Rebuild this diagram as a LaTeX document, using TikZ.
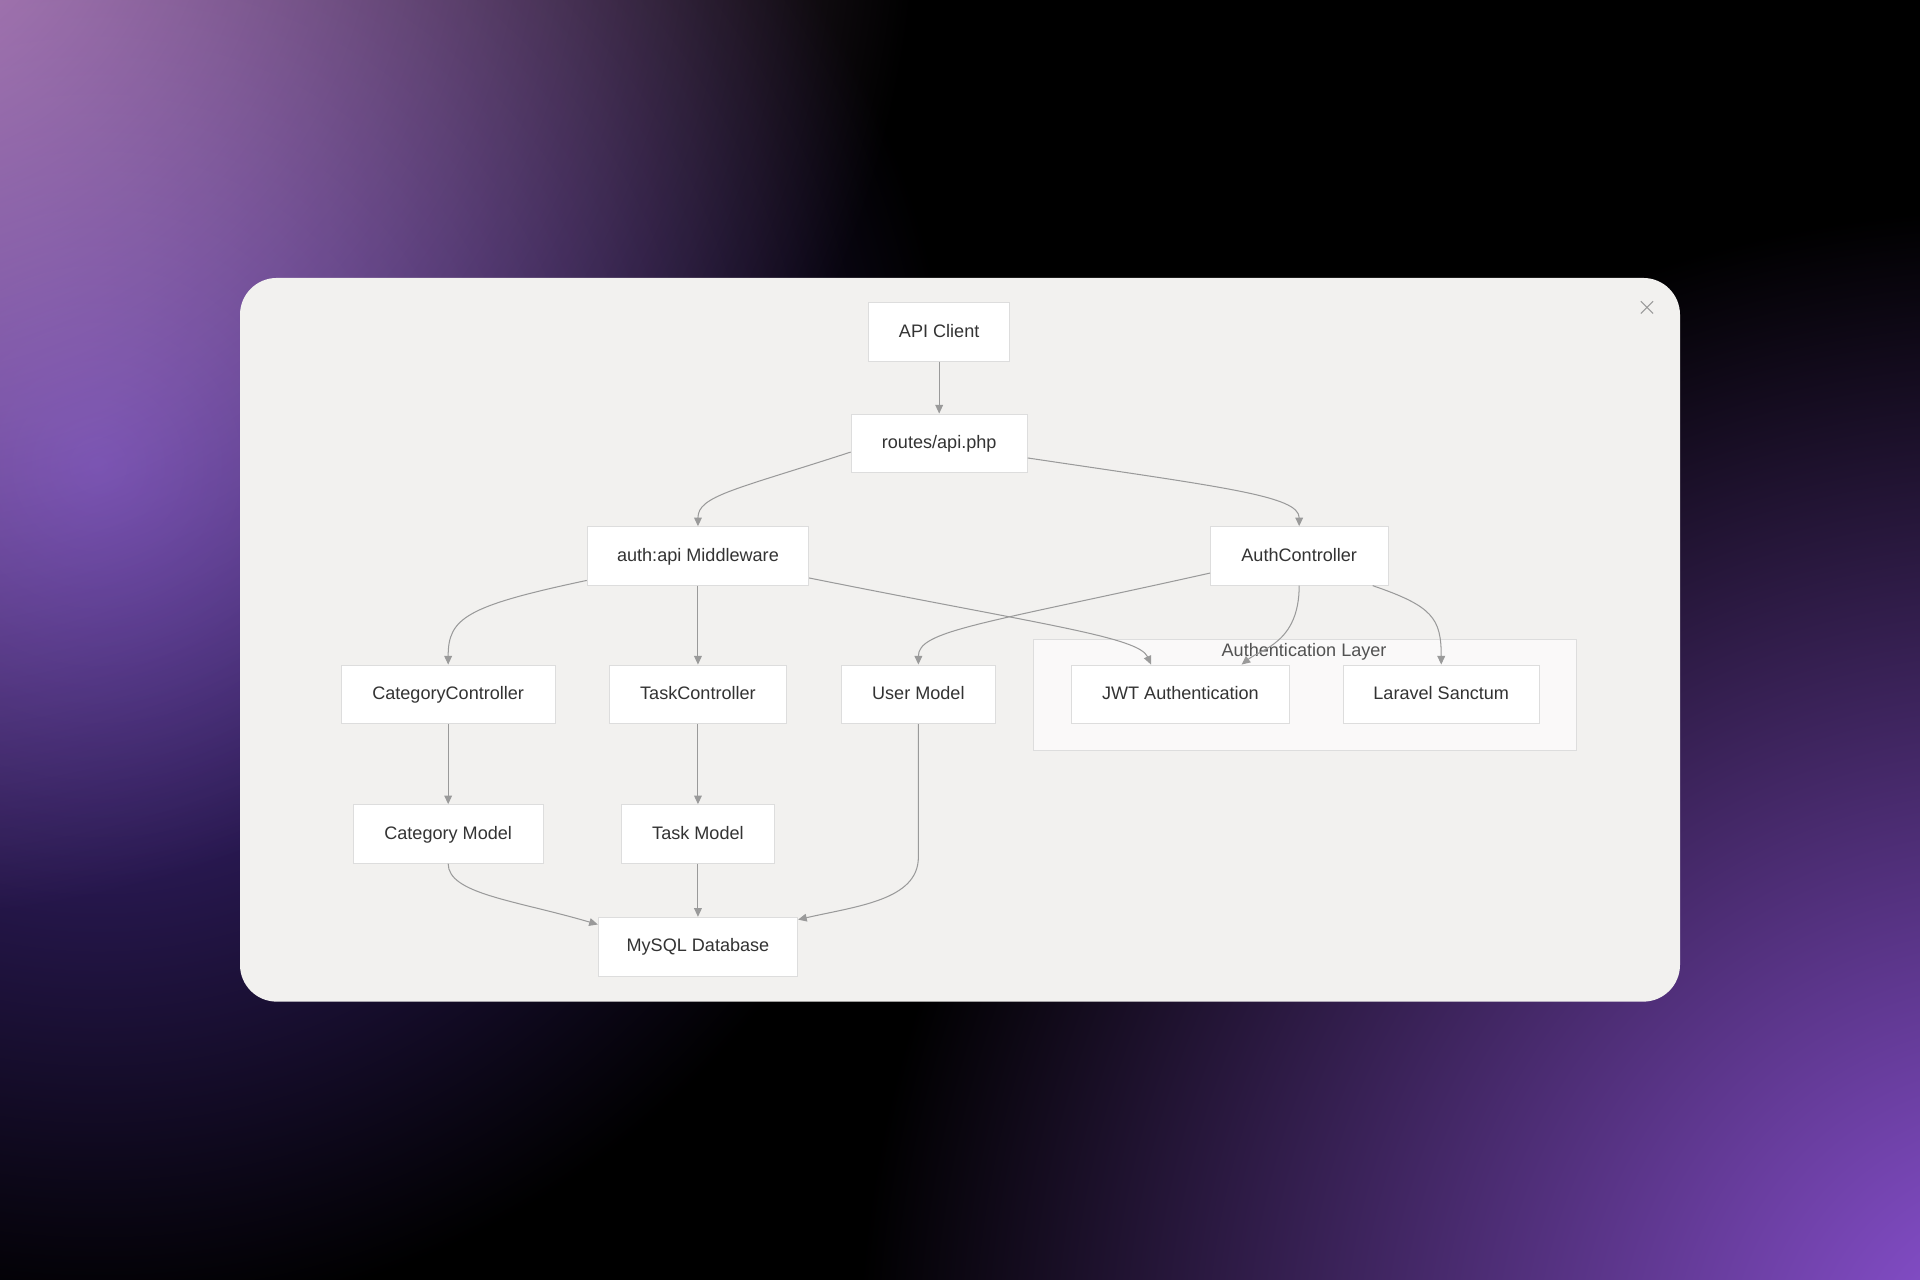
\documentclass[tikz,border=0pt]{standalone}
\usepackage{fontspec}
\setmainfont{Liberation Sans}
\usetikzlibrary{arrows.meta,positioning}
\definecolor{cardbg}{HTML}{F2F1EF}
\definecolor{edgegray}{HTML}{9A9A9A}
\definecolor{boxline}{HTML}{DDDDDD}
\definecolor{txt}{HTML}{333333}
\tikzset{
  box/.style={draw=boxline, fill=white, minimum height=1.2cm, text height=1.5ex, text depth=0.3ex, font=\fontsize{10.5}{12}\selectfont, text=txt},
  link/.style={draw=edgegray, line width=0.6pt, -{Triangle[length=5pt,width=4.5pt]}},
  glow/.style={blend mode=screen}
}
\begin{document}
\begin{tikzpicture}[x=0.025cm,y=-0.025cm]
% background
\useasboundingbox (0,0) rectangle (1568,1045);
\begin{scope}
\clip (0,0) rectangle (1568,1045);
\fill[black] (0,0) rectangle (1568,1045);
\shade[glow, inner color={rgb,255:red,170;green,120;blue,170}, outer color=black] (-100,-100) circle (850);
\shade[glow, inner color={rgb,255:red,75;green,45;blue,150}, outer color=black] (80,380) circle (700);
\shade[glow, inner color={rgb,255:red,145;green,85;blue,220}, outer color=black] (1650,1120) circle (950);
\end{scope}
% card
\fill[cardbg, rounded corners=0.75cm] (196,227) rectangle (1372,818);
\draw[edgegray, line width=0.6pt] (1340,246) -- (1350,256) (1350,246) -- (1340,256);
% auth layer
\fill[white!60!cardbg, draw=boxline] (844,522) rectangle (1287,613);
\node[font=\fontsize{10.5}{12}\selectfont, text=txt!85] (layer) at (1065,532) {Authentication Layer};
% nodes
\node[box, minimum width=2.875cm] (api) at (767,271) {API Client};
\node[box, minimum width=3.6cm] (routes) at (767,362) {routes/api.php};
\node[box, minimum width=4.525cm] (mw) at (570,454) {auth:api Middleware};
\node[box, minimum width=3.625cm] (authc) at (1061,454) {AuthController};
\node[box, minimum width=4.375cm] (catc) at (366,567) {CategoryController};
\node[box, minimum width=3.625cm] (taskc) at (570,567) {TaskController};
\node[box, minimum width=3.15cm] (user) at (750,567) {User Model};
\node[box, minimum width=4.45cm] (jwt) at (964,567) {JWT Authentication};
\node[box, minimum width=4cm] (sanctum) at (1177,567) {Laravel Sanctum};
\node[box, minimum width=3.875cm] (catm) at (366,681) {Category Model};
\node[box, minimum width=3.125cm] (taskm) at (570,681) {Task Model};
\node[box, minimum width=4.075cm] (db) at (570,773) {MySQL Database};
% connectors
\draw[link] (api) -- (routes);
\draw[link] ([yshift=-0.18cm]routes.west) .. controls (600,400) and (570,405) .. (mw.north);
\draw[link] ([yshift=-0.3cm]routes.east) .. controls (1000,398) and (1061,405) .. (authc.north);
\draw[link] ([yshift=-0.5cm]mw.west) .. controls (380,495) and (366,505) .. (catc.north);
\draw[link] (mw) -- (taskc);
\draw[link] ([yshift=-0.45cm]mw.east) .. controls (850,510) and (930,520) .. ([xshift=-0.6cm]jwt.north);
\draw[link] ([yshift=-0.35cm]authc.west) .. controls (800,510) and (750,515) .. (user.north);
\draw[link] (authc.south) .. controls (1061,525) and (1030,530) .. ([xshift=1.25cm]jwt.north);
\draw[link] ([xshift=1.5cm]authc.south) .. controls (1170,495) and (1177,505) .. (sanctum.north);
\draw[link] (catc) -- (catm);
\draw[link] (taskc) -- (taskm);
\draw[link] (catm.south) .. controls (366,730) and (420,735) .. ([yshift=0.45cm]db.west);
\draw[link] (taskm) -- (db);
\draw[link] (user.south) -- (750,700) .. controls (750,735) and (700,740) .. ([yshift=0.55cm]db.east);
\end{tikzpicture}
\end{document}
